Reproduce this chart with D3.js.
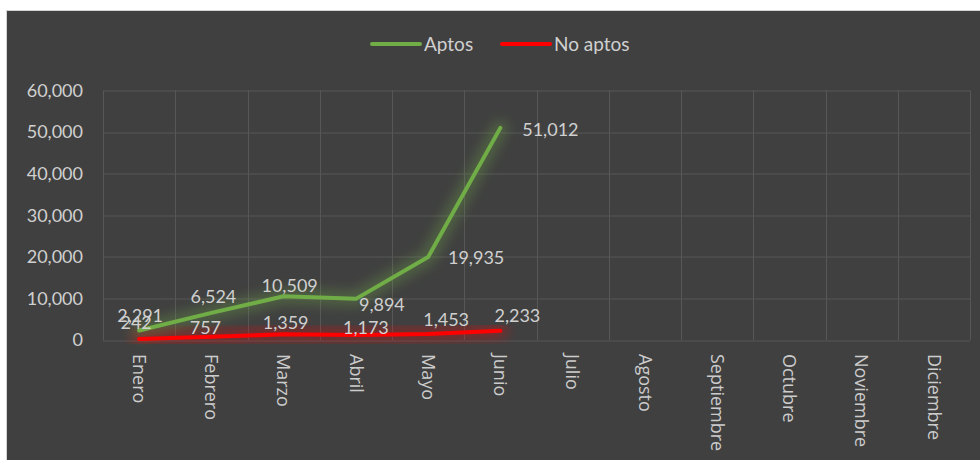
<!DOCTYPE html>
<html>
<head>
<meta charset="utf-8">
<script src="https://cdn.jsdelivr.net/npm/d3@7"></script>
<style>
  body { margin: 0; background: #fff; }
  text { font-family: Lato, "Open Sans", sans-serif; }
</style>
</head>
<body>
<div id="chart"></div>
<script>
const months = ["Enero", "Febrero", "Marzo", "Abril", "Mayo", "Junio", "Julio",
  "Agosto", "Septiembre", "Octubre", "Noviembre", "Diciembre"];
const aptos = [2291, 6524, 10509, 9894, 19935, 51012];
const noAptos = [242, 757, 1359, 1173, 1453, 2233];
const yTicks = [0, 10000, 20000, 30000, 40000, 50000, 60000];

// label nudges (dx, dy) relative to each point
const aptosLabelShift = [[1, -15], [2, -16], [6, -11], [26, 6], [48, 1], [50, 2]];
const noAptosLabelShift = [[-3, -16], [-6, -9], [2, -12], [10, -7], [18, -14], [17, -15]];

const W = 980, H = 460;
const margin = { top: 90.5, right: 10, bottom: 120, left: 103 };
const width = 970 - margin.left;
const height = 340 - margin.top;

const svg = d3.select("#chart")
  .append("svg")
  .attr("width", W)
  .attr("height", H);

svg.append("rect")
  .attr("x", 6.5).attr("y", 10.5)
  .attr("width", W).attr("height", H)
  .attr("fill", "#404040")
  .attr("stroke", "#d4d4d4");

const defs = svg.append("defs");
defs.append("filter")
  .attr("id", "glow")
  .attr("x", "-20%").attr("y", "-60%")
  .attr("width", "140%").attr("height", "220%")
  .append("feGaussianBlur")
  .attr("stdDeviation", 6);

const g = svg.append("g")
  .attr("transform", `translate(${margin.left}, ${margin.top})`);

const x = d3.scaleBand().domain(months).range([0, width]);
const y = d3.scaleLinear().domain([0, 60000]).range([height, 0]);

// horizontal gridlines
g.append("g")
  .selectAll("line")
  .data(yTicks)
  .join("line")
  .attr("x1", 0).attr("x2", width)
  .attr("y1", d => Math.round(y(d)) + 0.5)
  .attr("y2", d => Math.round(y(d)) + 0.5)
  .attr("stroke", "#575757");

// vertical gridlines at band edges
const edges = months.map(m => x(m)).concat([width]);
g.append("g")
  .selectAll("line")
  .data(edges)
  .join("line")
  .attr("x1", d => Math.round(d) + 0.5).attr("x2", d => Math.round(d) + 0.5)
  .attr("y1", 0).attr("y2", height)
  .attr("stroke", "#575757");

// y axis labels
const yAxis = g.append("g")
  .call(d3.axisLeft(y).tickValues(yTicks).tickFormat(d3.format(",")).tickSize(0).tickPadding(20));
yAxis.select(".domain").remove();
yAxis.selectAll("text")
  .attr("fill", "#d0d0d0")
  .style("font-size", "18px")
  .style("font-family", "Lato, sans-serif");

// x axis labels, rotated
const xAxis = g.append("g")
  .attr("transform", `translate(0, ${height})`)
  .call(d3.axisBottom(x).tickSize(0));
xAxis.select(".domain").remove();
xAxis.selectAll("text")
  .attr("fill", "#cccccc")
  .style("font-size", "18px")
  .style("font-family", "'Open Sans', sans-serif")
  .attr("transform", "rotate(90)")
  .attr("x", 14)
  .attr("y", 0)
  .attr("dy", "0.35em")
  .style("text-anchor", "start");

const line = d3.line()
  .x((d, i) => x(months[i]) + x.bandwidth() / 2)
  .y(d => y(d));

const series = [
  { values: aptos, color: "#70ad47", shift: aptosLabelShift },
  { values: noAptos, color: "#ff0000", shift: noAptosLabelShift }
];

// glow behind lines
series.forEach(s => {
  g.append("path")
    .datum(s.values)
    .attr("d", line)
    .attr("fill", "none")
    .attr("stroke", s.color)
    .attr("stroke-opacity", 0.3)
    .attr("stroke-width", 16)
    .attr("stroke-linecap", "round")
    .attr("stroke-linejoin", "round")
    .attr("filter", "url(#glow)");
});

series.forEach(s => {
  g.append("path")
    .datum(s.values)
    .attr("d", line)
    .attr("fill", "none")
    .attr("stroke", s.color)
    .attr("stroke-width", 4)
    .attr("stroke-linecap", "round")
    .attr("stroke-linejoin", "round");
});

// data labels
series.forEach(s => {
  g.append("g")
    .selectAll("text")
    .data(s.values)
    .join("text")
    .attr("x", (d, i) => x(months[i]) + x.bandwidth() / 2 + s.shift[i][0])
    .attr("y", (d, i) => y(d) + s.shift[i][1])
    .attr("dy", "0.35em")
    .attr("text-anchor", "middle")
    .attr("fill", "#d0d0d0")
    .style("font-size", "18px")
    .text(d => d3.format(",")(d));
});

// legend
const legend = svg.append("g").attr("transform", "translate(0, 44)");
const legendItems = [
  { name: "Aptos", color: "#70ad47", x: 372 },
  { name: "No aptos", color: "#ff0000", x: 502 }
];
legendItems.forEach(item => {
  legend.append("line")
    .attr("x1", item.x).attr("x2", item.x + 48)
    .attr("y1", 0).attr("y2", 0)
    .attr("stroke", item.color)
    .attr("stroke-width", 4)
    .attr("stroke-linecap", "round");
  legend.append("text")
    .attr("x", item.x + 52)
    .attr("y", 0)
    .attr("dy", "0.35em")
    .attr("fill", "#d0d0d0")
    .style("font-size", "19px")
    .text(item.name);
});
</script>
</body>
</html>
